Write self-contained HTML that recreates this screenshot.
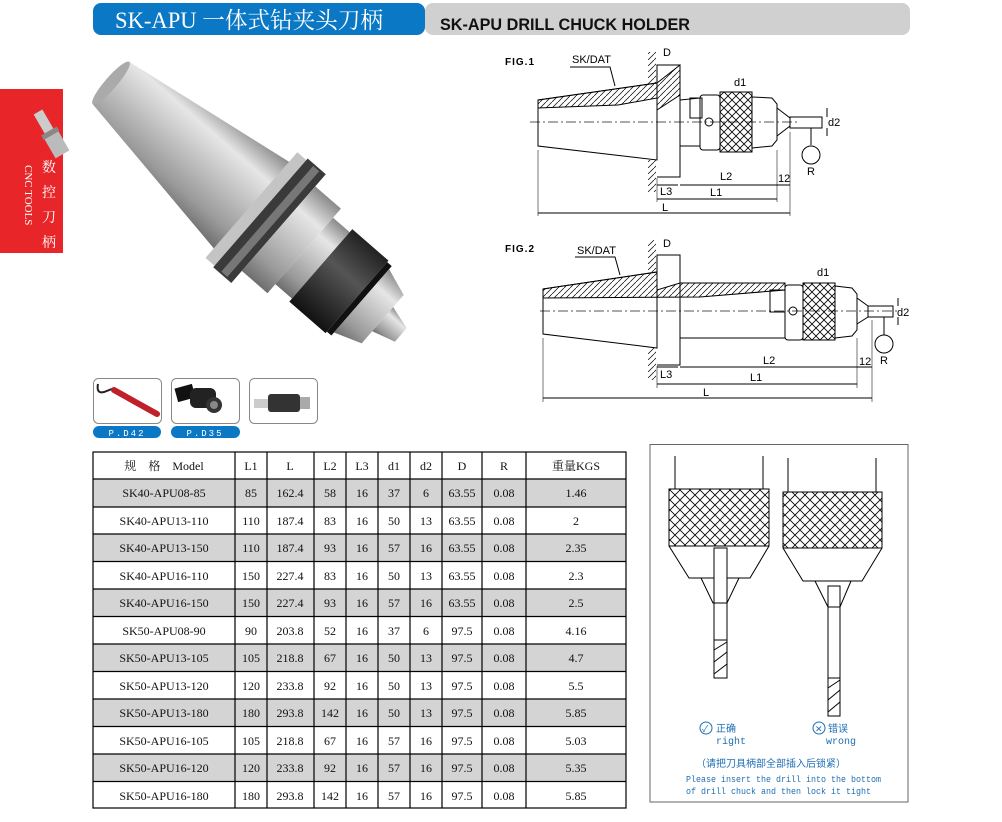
<!DOCTYPE html>
<html><head><meta charset="utf-8"><style>
body{margin:0;background:#fff;}
svg{display:block}
.t{font-family:"Liberation Serif","Noto Serif CJK SC",serif;}
.s{font-family:"Liberation Sans","Noto Sans CJK SC",sans-serif;}
.m{font-family:"Liberation Mono","Noto Sans CJK SC",monospace;}
</style></head><body>
<svg width="1002" height="822" viewBox="0 0 1002 822" xmlns="http://www.w3.org/2000/svg">
<defs>
<linearGradient id="met" x1="0" y1="0" x2="0" y2="1">
<stop offset="0" stop-color="#8a8a8a"/><stop offset="0.25" stop-color="#e6e6e6"/><stop offset="0.5" stop-color="#c4c4c4"/><stop offset="0.8" stop-color="#9a9a9a"/><stop offset="1" stop-color="#6e6e6e"/></linearGradient>
<linearGradient id="blk" x1="0" y1="0" x2="0" y2="1">
<stop offset="0" stop-color="#222"/><stop offset="0.4" stop-color="#555"/><stop offset="1" stop-color="#111"/></linearGradient>
<pattern id="kn" width="8" height="8" patternUnits="userSpaceOnUse"><path d="M0 0L8 8M8 0L0 8" stroke="#000" stroke-width="0.8"/></pattern>
<pattern id="kn2" width="10" height="10" patternUnits="userSpaceOnUse"><path d="M0 0L10 10M10 0L0 10" stroke="#000" stroke-width="0.8"/></pattern>
<pattern id="ht" width="6" height="6" patternUnits="userSpaceOnUse"><path d="M0 6L6 0" stroke="#000" stroke-width="0.7"/></pattern>
</defs>

<!-- header -->
<rect x="425" y="3" width="485" height="32" rx="8" fill="#d0d0d0"/>
<rect x="93" y="3" width="332" height="32" rx="8" fill="#0a78c4"/>
<text x="115" y="28" class="t" font-size="23" fill="#fff" textLength="268" lengthAdjust="spacingAndGlyphs">SK-APU 一体式钻夹头刀柄</text>
<text x="440" y="30" class="s" font-size="17" font-weight="bold" fill="#111" textLength="250" lengthAdjust="spacingAndGlyphs">SK-APU DRILL CHUCK HOLDER</text>

<!-- red side tab -->
<rect x="0" y="89" width="63" height="164" fill="#e8262a"/>
<g transform="translate(38,112) rotate(-30)"><rect x="-5" y="0" width="10" height="22" fill="#ccc"/><rect x="-9" y="22" width="18" height="5" fill="#888"/><rect x="-8" y="27" width="16" height="22" fill="#bbb"/></g>
<text x="49" y="172" class="t" font-size="14" fill="#fff" text-anchor="middle">数</text>
<text x="49" y="197" class="t" font-size="14" fill="#fff" text-anchor="middle">控</text>
<text x="49" y="222" class="t" font-size="14" fill="#fff" text-anchor="middle">刀</text>
<text x="49" y="247" class="t" font-size="14" fill="#fff" text-anchor="middle">柄</text>
<text transform="translate(25,165) rotate(90)" class="t" font-size="11" fill="#fff">CNC TOOLS</text>

<!-- photo tool -->
<g transform="translate(111,83) rotate(41)">
<path d="M0,-28 L190,-58 L190,58 L0,28 Z" fill="url(#met)"/>
<ellipse cx="0" cy="0" rx="6" ry="28" fill="#aaa"/>
<rect x="186" y="-70" width="12" height="140" fill="#c4c4c4"/>
<rect x="198" y="-72" width="24" height="144" fill="#3a3a3a"/>
<rect x="207" y="-70" width="8" height="140" fill="#777"/>
<rect x="222" y="-56" width="34" height="112" fill="url(#met)"/>
<rect x="256" y="-44" width="22" height="88" fill="url(#met)"/>
<rect x="278" y="-48" width="48" height="96" fill="url(#blk)"/>
<rect x="326" y="-46" width="6" height="92" fill="#111"/>
<path d="M332,-42 L360,-32 L360,32 L332,42 Z" fill="url(#met)"/>
<path d="M360,-16 L384,-9 L384,9 L360,16 Z" fill="url(#met)"/>
</g>

<!-- accessory boxes -->
<rect x="93.5" y="378.5" width="68" height="45" rx="5" fill="#fff" stroke="#888"/>
<path d="M98,384 Q96,394 104,392 L112,389 L156,412" stroke="#222" stroke-width="2" fill="none"/>
<path d="M114,390 L157,414" stroke="#c0202a" stroke-width="6" stroke-linecap="round"/>
<rect x="171.5" y="378.5" width="68" height="45" rx="5" fill="#fff" stroke="#888"/>
<rect x="176" y="386" width="18" height="14" fill="#111" transform="rotate(-15 185 393)"/>
<rect x="190" y="388" width="26" height="20" rx="6" fill="#222"/>
<circle cx="214" cy="405" r="8" fill="#333"/><circle cx="214" cy="405" r="4" fill="#888"/>
<rect x="249.5" y="378.5" width="68" height="45" rx="5" fill="#fff" stroke="#888"/>
<rect x="254" y="399" width="14" height="9" fill="#ccc"/><rect x="268" y="394" width="32" height="18" rx="3" fill="#333"/><rect x="300" y="397" width="10" height="12" fill="#aaa"/>
<rect x="93" y="426" width="68" height="12" rx="6" fill="#0a78c4"/>
<text x="127" y="436" class="m" font-size="9" fill="#fff" text-anchor="middle" letter-spacing="2">P.D42</text>
<rect x="171" y="426" width="69" height="12" rx="6" fill="#0a78c4"/>
<text x="205" y="436" class="m" font-size="9" fill="#fff" text-anchor="middle" letter-spacing="2">P.D35</text>

<!-- FIG 1 -->
<g stroke="#000" stroke-width="1" fill="none" class="s">
<text x="505" y="65" font-size="10" font-weight="bold" stroke="none" fill="#000" letter-spacing="1">FIG.1</text>
<text x="572" y="63" font-size="11" stroke="none" fill="#000">SK/DAT</text>
<path d="M570,67 L610,67 L615,86"/>
<line x1="530" y1="122" x2="800" y2="122" stroke-dasharray="10,3,2,3" stroke="#555"/>
<path d="M538,100 L657,83 L657,98 L618,105 L538,108 Z" fill="url(#ht)"/>
<path d="M538,100 L657,83 L657,160 L538,146 Z"/>
<rect x="648" y="52" width="8" height="32" fill="url(#ht)" stroke="none"/>
<rect x="648" y="160" width="8" height="32" fill="url(#ht)" stroke="none"/>
<path d="M657,83 L657,65 L680,65 L680,177 L657,177"/>
<path d="M657,83 L680,65 L680,95 L657,110Z" fill="url(#ht)"/>
<path d="M680,100 L700,98 L700,146 L680,146"/>
<rect x="690" y="98" width="12" height="20"/>
<rect x="700" y="95" width="20" height="55" rx="3"/>
<rect x="720" y="92" width="32" height="60" fill="url(#kn)"/>
<path d="M752,97 L772,98 L777,104 L777,140 L772,146 L752,148"/>
<path d="M777,108 L790,118 L790,126 L777,136"/>
<rect x="790" y="117" width="32" height="11"/>
<circle cx="709" cy="122" r="4"/>
<line x1="827" y1="108" x2="827" y2="117"/><line x1="827" y1="128" x2="827" y2="136"/>
<text x="828" y="126" font-size="11" stroke="none" fill="#000">d2</text>
<text x="734" y="86" font-size="11" stroke="none" fill="#000">d1</text>
<text x="663" y="56" font-size="11" stroke="none" fill="#000">D</text>
<line x1="811" y1="128" x2="811" y2="145"/><circle cx="811" cy="155" r="9"/>
<text x="807" y="175" font-size="11" stroke="none" fill="#000">R</text>
<line x1="538" y1="150" x2="538" y2="216" stroke="#777"/><line x1="657" y1="178" x2="657" y2="202" stroke="#777"/><line x1="777" y1="150" x2="777" y2="202" stroke="#777"/><line x1="790" y1="132" x2="790" y2="216" stroke="#777"/>
<line x1="657" y1="185" x2="678" y2="185"/><line x1="680" y1="185" x2="777" y2="185"/><line x1="777" y1="185" x2="790" y2="185"/>
<line x1="657" y1="199" x2="777" y2="199"/><line x1="538" y1="213" x2="790" y2="213"/>
<g stroke="none" fill="#000" font-size="11"><text x="660" y="195">L3</text><text x="720" y="180">L2</text><text x="778" y="182">12</text><text x="710" y="196">L1</text><text x="662" y="211">L</text></g>
</g>

<!-- FIG 2 -->
<g stroke="#000" stroke-width="1" fill="none" class="s">
<text x="505" y="252" font-size="10" font-weight="bold" stroke="none" fill="#000" letter-spacing="1">FIG.2</text>
<text x="577" y="254" font-size="11" stroke="none" fill="#000">SK/DAT</text>
<path d="M575,257 L615,257 L620,275"/>
<line x1="540" y1="311" x2="900" y2="311" stroke-dasharray="10,3,2,3" stroke="#555"/>
<path d="M543,289 L657,272 L657,348 L543,334 Z"/>
<path d="M543,289 L657,272 L657,290 L680,283 L785,283 L785,290 L700,297 L543,298 Z" fill="url(#ht)"/>
<rect x="648" y="240" width="8" height="32" fill="url(#ht)" stroke="none"/>
<rect x="648" y="348" width="8" height="32" fill="url(#ht)" stroke="none"/>
<path d="M657,272 L657,255 L680,255 L680,365 L657,365"/>
<path d="M680,283 L785,283 L785,338 L680,338"/>
<rect x="770" y="290" width="15" height="22"/>
<rect x="785" y="285" width="18" height="55" rx="3"/>
<rect x="803" y="283" width="32" height="57" fill="url(#kn)"/>
<path d="M835,286 L852,288 L857,294 L857,330 L852,336 L835,338"/>
<path d="M857,298 L868,306 L868,317 L857,324"/>
<rect x="868" y="306" width="25" height="11"/>
<circle cx="793" cy="311" r="4"/>
<line x1="898" y1="298" x2="898" y2="306"/><line x1="898" y1="317" x2="898" y2="325"/>
<text x="897" y="316" font-size="11" stroke="none" fill="#000">d2</text>
<text x="817" y="276" font-size="11" stroke="none" fill="#000">d1</text>
<text x="663" y="247" font-size="11" stroke="none" fill="#000">D</text>
<line x1="884" y1="317" x2="884" y2="335"/><circle cx="884" cy="344" r="9"/>
<text x="880" y="364" font-size="11" stroke="none" fill="#000">R</text>
<line x1="543" y1="338" x2="543" y2="402" stroke="#777"/><line x1="657" y1="366" x2="657" y2="388" stroke="#777"/><line x1="857" y1="338" x2="857" y2="388" stroke="#777"/><line x1="872" y1="320" x2="872" y2="402" stroke="#777"/>
<line x1="657" y1="367" x2="678" y2="367"/><line x1="680" y1="367" x2="857" y2="367"/><line x1="857" y1="367" x2="872" y2="367"/>
<line x1="657" y1="384" x2="857" y2="384"/><line x1="543" y1="398" x2="872" y2="398"/>
<g stroke="none" fill="#000" font-size="11"><text x="660" y="378">L3</text><text x="763" y="364">L2</text><text x="859" y="365">12</text><text x="750" y="381">L1</text><text x="703" y="396">L</text></g>
</g>

<!-- table -->
<g class="t" font-size="12" fill="#111">
<rect x="93" y="479" width="533" height="28" fill="#d4d4d4"/>
<rect x="93" y="534" width="533" height="27.5" fill="#d4d4d4"/>
<rect x="93" y="589" width="533" height="27.5" fill="#d4d4d4"/>
<rect x="93" y="644" width="533" height="27.5" fill="#d4d4d4"/>
<rect x="93" y="699" width="533" height="27.5" fill="#d4d4d4"/>
<rect x="93" y="754" width="533" height="27.5" fill="#d4d4d4"/>
<g stroke="#000" stroke-width="1.2" fill="none">
<rect x="93" y="452" width="533" height="356"/>
<path d="M235,452V808M267,452V808M314,452V808M346,452V808M378,452V808M410,452V808M442,452V808M482,452V808M526,452V808"/>
<path d="M93,479H626M93,507H626M93,534H626M93,561.5H626M93,589H626M93,616.5H626M93,644H626M93,671.5H626M93,699H626M93,726.5H626M93,754H626M93,781.5H626"/>
</g>
<g text-anchor="middle">
<text x="164" y="470">规　格　Model</text><text x="251" y="470">L1</text><text x="290" y="470">L</text><text x="330" y="470">L2</text><text x="362" y="470">L3</text><text x="394" y="470">d1</text><text x="426" y="470">d2</text><text x="462" y="470">D</text><text x="504" y="470">R</text><text x="576" y="470">重量KGS</text>
<text x="164" y="497">SK40-APU08-85</text><text x="251" y="497">85</text><text x="290" y="497">162.4</text><text x="330" y="497">58</text><text x="362" y="497">16</text><text x="394" y="497">37</text><text x="426" y="497">6</text><text x="462" y="497">63.55</text><text x="504" y="497">0.08</text><text x="576" y="497">1.46</text>
<text x="164" y="525">SK40-APU13-110</text><text x="251" y="525">110</text><text x="290" y="525">187.4</text><text x="330" y="525">83</text><text x="362" y="525">16</text><text x="394" y="525">50</text><text x="426" y="525">13</text><text x="462" y="525">63.55</text><text x="504" y="525">0.08</text><text x="576" y="525">2</text>
<text x="164" y="552">SK40-APU13-150</text><text x="251" y="552">110</text><text x="290" y="552">187.4</text><text x="330" y="552">93</text><text x="362" y="552">16</text><text x="394" y="552">57</text><text x="426" y="552">16</text><text x="462" y="552">63.55</text><text x="504" y="552">0.08</text><text x="576" y="552">2.35</text>
<text x="164" y="580">SK40-APU16-110</text><text x="251" y="580">150</text><text x="290" y="580">227.4</text><text x="330" y="580">83</text><text x="362" y="580">16</text><text x="394" y="580">50</text><text x="426" y="580">13</text><text x="462" y="580">63.55</text><text x="504" y="580">0.08</text><text x="576" y="580">2.3</text>
<text x="164" y="607">SK40-APU16-150</text><text x="251" y="607">150</text><text x="290" y="607">227.4</text><text x="330" y="607">93</text><text x="362" y="607">16</text><text x="394" y="607">57</text><text x="426" y="607">16</text><text x="462" y="607">63.55</text><text x="504" y="607">0.08</text><text x="576" y="607">2.5</text>
<text x="164" y="635">SK50-APU08-90</text><text x="251" y="635">90</text><text x="290" y="635">203.8</text><text x="330" y="635">52</text><text x="362" y="635">16</text><text x="394" y="635">37</text><text x="426" y="635">6</text><text x="462" y="635">97.5</text><text x="504" y="635">0.08</text><text x="576" y="635">4.16</text>
<text x="164" y="662">SK50-APU13-105</text><text x="251" y="662">105</text><text x="290" y="662">218.8</text><text x="330" y="662">67</text><text x="362" y="662">16</text><text x="394" y="662">50</text><text x="426" y="662">13</text><text x="462" y="662">97.5</text><text x="504" y="662">0.08</text><text x="576" y="662">4.7</text>
<text x="164" y="690">SK50-APU13-120</text><text x="251" y="690">120</text><text x="290" y="690">233.8</text><text x="330" y="690">92</text><text x="362" y="690">16</text><text x="394" y="690">50</text><text x="426" y="690">13</text><text x="462" y="690">97.5</text><text x="504" y="690">0.08</text><text x="576" y="690">5.5</text>
<text x="164" y="717">SK50-APU13-180</text><text x="251" y="717">180</text><text x="290" y="717">293.8</text><text x="330" y="717">142</text><text x="362" y="717">16</text><text x="394" y="717">50</text><text x="426" y="717">13</text><text x="462" y="717">97.5</text><text x="504" y="717">0.08</text><text x="576" y="717">5.85</text>
<text x="164" y="745">SK50-APU16-105</text><text x="251" y="745">105</text><text x="290" y="745">218.8</text><text x="330" y="745">67</text><text x="362" y="745">16</text><text x="394" y="745">57</text><text x="426" y="745">16</text><text x="462" y="745">97.5</text><text x="504" y="745">0.08</text><text x="576" y="745">5.03</text>
<text x="164" y="772">SK50-APU16-120</text><text x="251" y="772">120</text><text x="290" y="772">233.8</text><text x="330" y="772">92</text><text x="362" y="772">16</text><text x="394" y="772">57</text><text x="426" y="772">16</text><text x="462" y="772">97.5</text><text x="504" y="772">0.08</text><text x="576" y="772">5.35</text>
<text x="164" y="800">SK50-APU16-180</text><text x="251" y="800">180</text><text x="290" y="800">293.8</text><text x="330" y="800">142</text><text x="362" y="800">16</text><text x="394" y="800">57</text><text x="426" y="800">16</text><text x="462" y="800">97.5</text><text x="504" y="800">0.08</text><text x="576" y="800">5.85</text>
</g>
</g>

<!-- right panel -->
<rect x="650" y="444.5" width="258" height="357.5" fill="#fff" stroke="#666"/>
<g stroke="#000" stroke-width="1" fill="none">
<line x1="675" y1="456" x2="675" y2="489"/><line x1="763" y1="456" x2="763" y2="489"/>
<rect x="669" y="489" width="100" height="57" fill="url(#kn2)"/>
<path d="M669,546 L689,578 L750,578 L769,546"/>
<path d="M701,578 L713,603 L727,603 L739,578"/>
<rect x="714" y="548" width="13" height="130" fill="#fff"/>
<line x1="714" y1="603" x2="727" y2="603"/>
<path d="M714,640 L727,640 M714,650 L727,642 M714,662 L727,652 M714,674 L727,664" />
<line x1="788" y1="458" x2="788" y2="492"/><line x1="876" y1="458" x2="876" y2="492"/>
<rect x="783" y="492" width="99" height="56" fill="url(#kn2)"/>
<path d="M783,548 L803,581 L862,581 L882,548"/>
<path d="M815,581 L828,607 L840,607 L851,581"/>
<rect x="828" y="586" width="12" height="130" fill="#fff"/>
<line x1="828" y1="607" x2="840" y2="607"/>
<path d="M828,678 L840,678 M828,688 L840,680 M828,700 L840,690 M828,712 L840,702"/>
</g>
<g fill="#1f6fb5" class="s" font-size="10">
<circle cx="706" cy="728" r="6" fill="none" stroke="#1f6fb5"/><text x="702" y="732" font-size="9">✓</text>
<text x="716" y="732">正确</text>
<text x="716" y="744" class="m">right</text>
<circle cx="819" cy="728" r="6" fill="none" stroke="#1f6fb5"/><text x="815" y="732" font-size="9">✕</text>
<text x="828" y="732">错误</text>
<text x="826" y="744" class="m">wrong</text>
<text x="696" y="767">（请把刀具柄部全部插入后锁紧）</text>
<text x="686" y="782" class="m" font-size="9.5" textLength="195" lengthAdjust="spacingAndGlyphs">Please insert the drill into the bottom</text>
<text x="686" y="794" class="m" font-size="9.5" textLength="185" lengthAdjust="spacingAndGlyphs">of drill chuck and then lock it tight</text>
</g>
</svg>
</body></html>
